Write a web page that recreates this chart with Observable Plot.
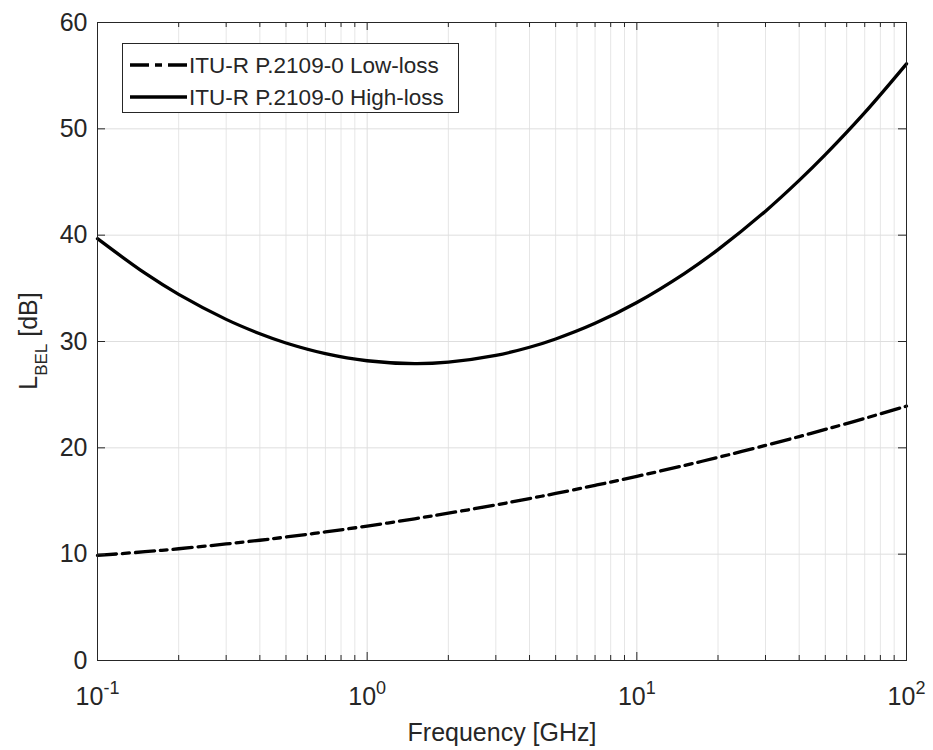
<!DOCTYPE html>
<html>
<head>
<meta charset="utf-8">
<script src="https://cdn.jsdelivr.net/npm/d3@7"></script>
<script src="https://cdn.jsdelivr.net/npm/@observablehq/plot@0.6"></script>
<style>
  body { margin: 0; background: #fff; }
  #chart svg { display: block; }
</style>
</head>
<body>
<div id="chart"></div>
<script>
// ---- data ----
const freqGHz  = [0.1, 0.15, 0.2, 0.3, 0.4, 0.5, 0.7, 1, 1.5, 2, 3, 4, 5, 7, 10, 15, 20, 30, 40, 50, 70, 100];
const lowLoss  = [9.88, 10.23, 10.51, 10.96, 11.31, 11.61, 12.09, 12.64, 13.33, 13.85, 14.63, 15.23, 15.71, 16.47, 17.32, 18.34, 19.10, 20.23, 21.06, 21.73, 22.77, 23.92];
const highLoss = [39.67, 36.42, 34.43, 32.08, 30.73, 29.86, 28.86, 28.19, 27.92, 28.06, 28.69, 29.46, 30.24, 31.71, 33.67, 36.39, 38.64, 42.26, 45.15, 47.57, 51.52, 56.11];
const seriesNames = ["ITU-R P.2109-0 Low-loss", "ITU-R P.2109-0 High-loss"];
const xMajorTicks = [0.1, 1, 10, 100];
const xExponents  = ["-1", "0", "1", "2"];
const xMinorTicks = [0.2, 0.3, 0.4, 0.5, 0.6, 0.7, 0.8, 0.9, 2, 3, 4, 5, 6, 7, 8, 9, 20, 30, 40, 50, 60, 70, 80, 90];
const yTicks = [0, 10, 20, 30, 40, 50, 60];
const xLabel = "Frequency [GHz]";
const yLabelMain = "L", yLabelSub = "BEL", yLabelUnit = " [dB]";

const lowData  = freqGHz.map((f, i) => ({f, v: lowLoss[i]}));
const highData = freqGHz.map((f, i) => ({f, v: highLoss[i]}));

const W = 933, H = 750;
const mL = 97, mR = 27, mT = 22, mB = 90;
const fw = W - mL - mR, fh = H - mT - mB;
const ink = "#262626";
const font = "'Liberation Sans', Arial, Helvetica, sans-serif";
const dashDot = "19,6,7,6";

const chart = Plot.plot({
  width: W, height: H,
  marginLeft: mL, marginRight: mR, marginTop: mT, marginBottom: mB,
  style: {fontFamily: font, background: "#fff", color: ink},
  x: {type: "log", domain: [0.1, 100]},
  y: {domain: [0, 60]},
  marks: [
    // grid
    Plot.ruleX(xMinorTicks, {stroke: "#e6e6e6", strokeWidth: 1}),
    Plot.ruleX(xMajorTicks, {stroke: "#dedede", strokeWidth: 1}),
    Plot.ruleY(yTicks, {stroke: "#dedede", strokeWidth: 1}),
    // curves
    Plot.line(lowData,  {x: "f", y: "v", stroke: "#000", strokeWidth: 3.3, strokeDasharray: dashDot, curve: "catmull-rom"}),
    Plot.line(highData, {x: "f", y: "v", stroke: "#000", strokeWidth: 3.3, curve: "catmull-rom"}),
    // box
    Plot.frame({stroke: ink, strokeWidth: 1}),
    // inward ticks (bottom/top, left/right)
    Plot.tickX(xMajorTicks, {x: d => d, stroke: ink, insetTop: fh - 8}),
    Plot.tickX(xMajorTicks, {x: d => d, stroke: ink, insetBottom: fh - 8}),
    Plot.tickX(xMinorTicks, {x: d => d, stroke: ink, insetTop: fh - 5}),
    Plot.tickX(xMinorTicks, {x: d => d, stroke: ink, insetBottom: fh - 5}),
    Plot.tickY(yTicks, {y: d => d, stroke: ink, insetRight: fw - 8}),
    Plot.tickY(yTicks, {y: d => d, stroke: ink, insetLeft: fw - 8}),
    // axes
    Plot.axisX(xMajorTicks, {tickSize: 0, tickPadding: 27, fontSize: 25, tickFormat: () => "10", label: null, fill: ink}),
    Plot.axisY(yTicks, {tickSize: 0, tickPadding: 10, fontSize: 25, label: null, fill: ink}),
    Plot.text([xLabel], {text: d => d, frameAnchor: "bottom", lineAnchor: "bottom", dy: 80, fontSize: 25, fill: ink})
  ]
});

document.getElementById("chart").appendChild(chart);

const svg = d3.select(chart);
// superscript exponents for x tick labels
svg.selectAll('g[aria-label="x-axis tick label"] text').each(function(d, i) {
  d3.select(this).append("tspan")
    .attr("dy", "-11")
    .attr("font-size", 18)
    .text(xExponents[i]);
});

// y-axis label with subscript
const yl = svg.append("text")
  .attr("transform", `translate(37,${mT + fh / 2}) rotate(-90)`)
  .attr("text-anchor", "middle")
  .attr("font-family", font)
  .attr("font-size", 25)
  .attr("fill", ink);
yl.append("tspan").text(yLabelMain);
yl.append("tspan").attr("dy", 10).attr("font-size", 17).text(yLabelSub);
yl.append("tspan").attr("dy", -10).text(yLabelUnit);

// legend
const lg = svg.append("g").attr("font-family", font).attr("font-size", 22.5).attr("fill", ink)
  .attr("text-anchor", "start");
lg.append("rect").attr("x", 122.5).attr("y", 43.5).attr("width", 336).attr("height", 69)
  .attr("fill", "#fff").attr("stroke", ink).attr("stroke-width", 1);
const rows = [{name: seriesNames[0], dash: dashDot, y: 65}, {name: seriesNames[1], dash: null, y: 97}];
rows.forEach(r => {
  lg.append("line").attr("x1", 130).attr("x2", 187).attr("y1", r.y).attr("y2", r.y)
    .attr("stroke", "#000").attr("stroke-width", 3.3).attr("stroke-dasharray", r.dash);
  lg.append("text").attr("x", 189).attr("y", r.y).attr("dy", "0.35em")
    .attr("text-anchor", "start").text(r.name);
});
</script>
</body>
</html>
